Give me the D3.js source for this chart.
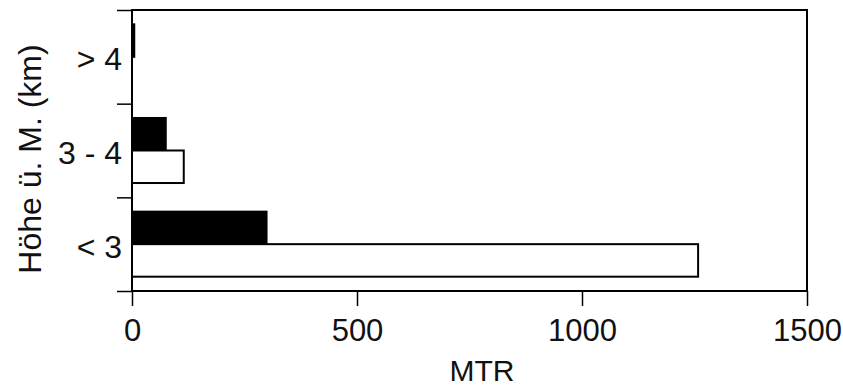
<!DOCTYPE html>
<html>
<head>
<meta charset="utf-8">
<script src="https://cdn.jsdelivr.net/npm/d3@7"></script>
<style>
  html, body { margin: 0; padding: 0; background: #fff; }
  svg { display: block; font-family: "Liberation Sans", Arial, sans-serif; }
</style>
</head>
<body>
<div id="container-chart"></div>
<script>
// values
const categories = ["> 4", "3 - 4", "< 3"];
const seriesNames = ["dark", "light"];
const darkValues = [5, 75, 299];
const lightValues = [0, 115, 1258];
const xTicks = [0, 500, 1000, 1500];

const W = 843, H = 388;
const margin = {top: 10, right: 36, bottom: 97, left: 132};
const width = W - margin.left - margin.right;
const height = H - margin.top - margin.bottom;

const svg = d3.select("#container-chart")
  .append("svg")
  .attr("width", W)
  .attr("height", H);

const g = svg.append("g")
  .attr("transform", "translate(" + margin.left + "," + margin.top + ")");

const x = d3.scaleLinear().domain([0, 1500]).range([0, width]);
const y = d3.scaleBand().domain(categories).range([0, height]).padding(0);
const ySub = d3.scaleBand().domain(seriesNames).range([0, y.bandwidth()])
  .paddingInner(0).paddingOuter(0.44);

const rows = categories.map((c, i) => ({cat: c, values: [
  {key: "dark", v: darkValues[i]},
  {key: "light", v: lightValues[i]}
]}));

// bars
const row = g.selectAll(".row").data(rows).enter().append("g")
  .attr("transform", d => "translate(0," + y(d.cat) + ")");

row.selectAll("rect")
  .data(d => d.values.filter(b => b.v > 0))
  .enter().append("rect")
  .attr("x", x(0))
  .attr("y", b => ySub(b.key))
  .attr("width", b => x(b.v) - x(0))
  .attr("height", ySub.bandwidth())
  .attr("fill", b => b.key === "dark" ? "#000" : "#fff")
  .attr("stroke", "#000")
  .attr("stroke-width", 2);

// frame
g.append("rect")
  .attr("x", 0).attr("y", 0)
  .attr("width", width).attr("height", height)
  .attr("fill", "none")
  .attr("stroke", "#000")
  .attr("stroke-width", 2);

// x axis
const xAxis = g.append("g")
  .attr("transform", "translate(0," + height + ")")
  .call(d3.axisBottom(x).tickValues(xTicks).tickFormat(d3.format("d"))
    .tickSize(15).tickSizeOuter(0).tickPadding(13));
xAxis.select(".domain").remove();
xAxis.selectAll("line").attr("stroke", "#000").attr("stroke-width", 1.5);
xAxis.selectAll("text").attr("font-size", "31px").attr("fill", "#111")
  .attr("font-family", "Liberation Sans, Arial, sans-serif");

// y ticks at band edges
const yEdge = d3.scaleLinear().domain([0, categories.length]).range([0, height]);
const yTickAxis = g.append("g")
  .call(d3.axisLeft(yEdge).tickValues(d3.range(categories.length + 1)).tickSize(15).tickFormat(""));
yTickAxis.select(".domain").remove();
yTickAxis.selectAll("line").attr("stroke", "#000").attr("stroke-width", 1.5);

// y category labels
const yLab = g.append("g")
  .call(d3.axisLeft(y).tickSize(0).tickPadding(10));
yLab.select(".domain").remove();
yLab.selectAll("text").attr("font-size", "32px").attr("fill", "#111")
  .attr("dy", "0.42em")
  .attr("font-family", "Liberation Sans, Arial, sans-serif");

// axis titles
svg.append("text")
  .attr("x", 482).attr("y", 381)
  .attr("text-anchor", "middle")
  .attr("font-size", "30px")
  .attr("fill", "#111")
  .text("MTR");

svg.append("text")
  .attr("transform", "translate(41,159) rotate(-90)")
  .attr("text-anchor", "middle")
  .attr("font-size", "32px")
  .attr("fill", "#111")
  .text("Höhe ü. M. (km)");
</script>
</body>
</html>
